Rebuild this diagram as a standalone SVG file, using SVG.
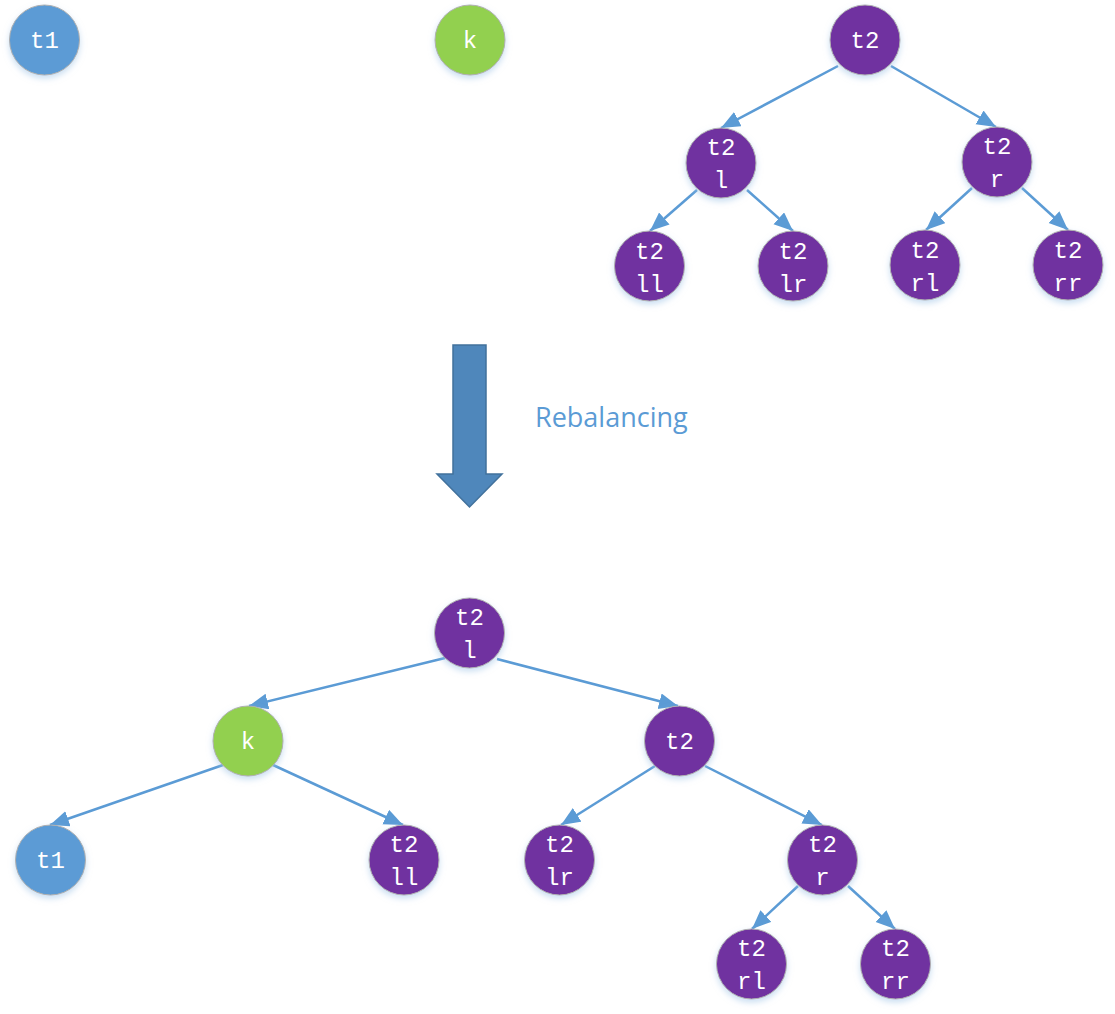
<svg xmlns="http://www.w3.org/2000/svg" width="1115" height="1014" viewBox="0 0 1115 1014">
<defs>
<style>
.n circle{stroke:#b0b0b0;stroke-width:1;filter:url(#sh)}
.blue circle{fill:#5b9bd5}
.green circle{fill:#92d050}
.purple circle{fill:#7030a0}
.n text{fill:#ffffff;font-family:"Liberation Mono","DejaVu Sans Mono",monospace;font-size:24px;text-anchor:middle}
#edges line{stroke:#5b9bd5;stroke-width:2.5;marker-end:url(#ah)}
.lbl{fill:#5b9bd5;font-family:"Open Sans","Noto Sans",sans-serif;font-size:27px}
</style>
<marker id="ah" markerUnits="userSpaceOnUse" markerWidth="22" markerHeight="18" refX="19" refY="8" orient="auto">
<path d="M0,0 L19,8 L0,16 z" fill="#5b9bd5"/>
</marker>
<filter id="sh" x="-30%" y="-30%" width="160%" height="170%">
<feDropShadow dx="0" dy="3" stdDeviation="3" flood-color="#9dc3e6" flood-opacity="0.55"/>
</filter>
</defs>
<rect width="1115" height="1014" fill="#ffffff"/>
<g id="edges">
<line x1="838" y1="66" x2="721" y2="128"/>
<line x1="891" y1="66" x2="996" y2="127"/>
<line x1="697" y1="190" x2="650" y2="231"/>
<line x1="747" y1="190" x2="793" y2="231"/>
<line x1="972" y1="188" x2="926" y2="230"/>
<line x1="1022" y1="188" x2="1068" y2="230"/>
<line x1="445" y1="658" x2="249" y2="706"/>
<line x1="497" y1="659" x2="678" y2="706"/>
<line x1="223" y1="765" x2="50" y2="825"/>
<line x1="273" y1="765" x2="403" y2="825"/>
<line x1="655" y1="766" x2="561" y2="825"/>
<line x1="705" y1="766" x2="822" y2="825"/>
<line x1="798" y1="886" x2="752" y2="929"/>
<line x1="848" y1="886" x2="895" y2="929"/>
</g>
<g id="arrow">
<path d="M453,345 L486,345 L486,474 L502,474 L469.5,507 L437,474 L453,474 z" fill="#4f87bb" stroke="#41719c" stroke-width="1.5"/>
</g>
<text class="lbl" x="535" y="427">Rebalancing</text>
<g id="top-t1" class="n blue"><circle cx="44.5" cy="40" r="35"/><text x="44.5" y="48">t1</text></g>
<g id="top-k" class="n green"><circle cx="470" cy="40" r="35"/><text x="470" y="48">k</text></g>
<g id="top-t2" class="n purple"><circle cx="865" cy="40" r="35"/><text x="865" y="48">t2</text></g>
<g id="top-t2l" class="n purple"><circle cx="721" cy="163" r="35"/><text x="721" y="155">t2</text><text x="721" y="188">l</text></g>
<g id="top-t2r" class="n purple"><circle cx="997" cy="162" r="35"/><text x="997" y="154">t2</text><text x="997" y="187">r</text></g>
<g id="top-t2ll" class="n purple"><circle cx="649.5" cy="266" r="35"/><text x="649.5" y="259">t2</text><text x="649.5" y="292">ll</text></g>
<g id="top-t2lr" class="n purple"><circle cx="793" cy="266" r="35"/><text x="793" y="259">t2</text><text x="793" y="292">lr</text></g>
<g id="top-t2rl" class="n purple"><circle cx="925" cy="265" r="35"/><text x="925" y="258">t2</text><text x="925" y="291">rl</text></g>
<g id="top-t2rr" class="n purple"><circle cx="1068" cy="265" r="35"/><text x="1068" y="258">t2</text><text x="1068" y="291">rr</text></g>
<g id="bot-t2l" class="n purple"><circle cx="469.5" cy="633" r="35"/><text x="469.5" y="625">t2</text><text x="469.5" y="658">l</text></g>
<g id="bot-k" class="n green"><circle cx="248" cy="741" r="35"/><text x="248" y="749">k</text></g>
<g id="bot-t2" class="n purple"><circle cx="679.5" cy="741" r="35"/><text x="679.5" y="749">t2</text></g>
<g id="bot-t1" class="n blue"><circle cx="50.5" cy="860" r="35"/><text x="50.5" y="868">t1</text></g>
<g id="bot-t2ll" class="n purple"><circle cx="404" cy="860" r="35"/><text x="404" y="852">t2</text><text x="404" y="885">ll</text></g>
<g id="bot-t2lr" class="n purple"><circle cx="559.5" cy="860" r="35"/><text x="559.5" y="852">t2</text><text x="559.5" y="885">lr</text></g>
<g id="bot-t2r" class="n purple"><circle cx="822.5" cy="860" r="35"/><text x="822.5" y="852">t2</text><text x="822.5" y="885">r</text></g>
<g id="bot-t2rl" class="n purple"><circle cx="751.5" cy="964" r="35"/><text x="751.5" y="956">t2</text><text x="751.5" y="989">rl</text></g>
<g id="bot-t2rr" class="n purple"><circle cx="895.5" cy="964" r="35"/><text x="895.5" y="956">t2</text><text x="895.5" y="989">rr</text></g>
</svg>
